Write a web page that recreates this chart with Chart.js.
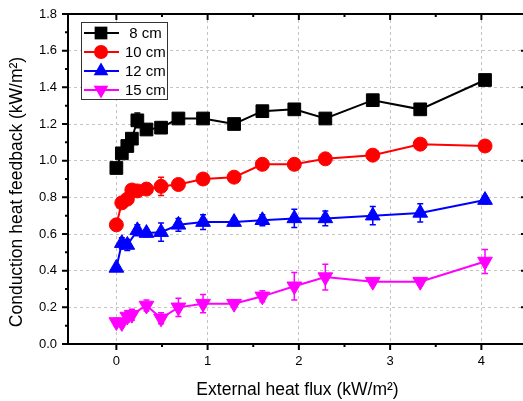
<!DOCTYPE html>
<html>
<head>
<meta charset="utf-8">
<script src="https://cdn.jsdelivr.net/npm/chart.js"></script>
<style>
  html, body { margin: 0; padding: 0; background: #fff; overflow: hidden; }
  #wrap { width: 523px; height: 401px; overflow: hidden; }
</style>
</head>
<body>
<div id="wrap"><canvas id="myChart" width="527" height="401"></canvas></div>
<script>
// external heat flux (kW/m2), shared by all series
var heatFlux = [0, 0.06, 0.12, 0.17, 0.23, 0.33, 0.49, 0.68, 0.95, 1.29, 1.6, 1.95, 2.29, 2.81, 3.33, 4.04];

// conduction heat feedback (kW/m2)
var cm8 = [0.96, 1.04, 1.08, 1.12, 1.22, 1.17, 1.18, 1.23, 1.23, 1.2, 1.27, 1.28, 1.23, 1.33, 1.28, 1.44];
var cm10 = [0.65, 0.77, 0.79, 0.84, 0.835, 0.845, 0.86, 0.87, 0.9, 0.91, 0.98, 0.98, 1.01, 1.03, 1.09, 1.08];
var cm12 = [0.415, 0.55, 0.54, null, 0.62, 0.605, 0.61, 0.65, 0.665, 0.665, 0.675, 0.685, 0.685, 0.7, 0.715, 0.785];
var cm15 = [0.12, 0.115, 0.15, 0.16, null, 0.21, 0.14, 0.2, 0.22, 0.22, 0.26, 0.315, 0.365, 0.34, 0.34, 0.45];

// error bar half lengths
var err8 = [0, 0, 0, 0, 0.04, 0.02, 0.03, 0.02, 0.02, 0, 0.02, 0, 0, 0, 0, 0];
var err10 = [0, 0, 0, 0, 0, 0, 0.05, 0, 0, 0, 0, 0, 0, 0, 0.03, 0];
var err12 = [0, 0.03, 0.03, 0, 0.03, 0.02, 0.05, 0.035, 0.04, 0.02, 0.03, 0.05, 0.04, 0.05, 0.05, 0.02];
var err15 = [0.02, 0.02, 0.03, 0.03, 0, 0.03, 0.03, 0.05, 0.05, 0.02, 0.03, 0.075, 0.07, 0.02, 0.02, 0.065];

var seriesLabels = [" 8 cm", "10 cm", "12 cm", "15 cm"];
var xTicks = [0, 1, 2, 3, 4];

var FONT = "'Liberation Sans', Arial, sans-serif";

function toPoints(values) {
  return heatFlux.map(function (x, i) {
    return { x: x, y: values[i] };
  });
}

function makeSet(label, values, errs, color, style, radius, rotation) {
  return {
    label: label,
    data: toPoints(values),
    errors: errs,
    showLine: true,
    spanGaps: true,
    borderColor: color,
    backgroundColor: color,
    borderWidth: 2,
    pointStyle: style,
    pointRadius: radius,
    pointRotation: rotation || 0,
    pointBorderWidth: 1,
    pointBorderColor: color,
    pointBackgroundColor: color,
    tension: 0,
  };
}

// marker for the legend box
function drawMarker(c, style, x, y, r, rot, color) {
  c.fillStyle = color;
  c.beginPath();
  if (style === "rect") {
    var s = r / Math.SQRT2;
    c.rect(x - s, y - s, 2 * s, 2 * s);
  } else if (style === "circle") {
    c.arc(x, y, r, 0, Math.PI * 2);
  } else {
    var a = rot ? Math.PI : 0;
    for (var k = 0; k < 3; k++) {
      var ang = a - Math.PI / 2 + (k * 2 * Math.PI) / 3;
      var px = x + r * Math.cos(ang);
      var py = y + r * Math.sin(ang);
      if (k === 0) c.moveTo(px, py);
      else c.lineTo(px, py);
    }
    c.closePath();
  }
  c.fill();
}

var framePlugin = {
  id: "frame",
  afterDatasetsDraw: function (chart) {
    var c = chart.ctx;
    var xs = chart.scales.x;
    var ys = chart.scales.y;
    var a = chart.chartArea;

    // error bars
    chart.data.datasets.forEach(function (ds) {
      c.save();
      c.strokeStyle = ds.borderColor;
      c.lineWidth = 1.5;
      ds.data.forEach(function (p, i) {
        var e = ds.errors[i];
        if (p.y === null || !e) return;
        var px = xs.getPixelForValue(p.x);
        var y1 = ys.getPixelForValue(p.y + e);
        var y2 = ys.getPixelForValue(p.y - e);
        c.beginPath();
        c.moveTo(px, y1); c.lineTo(px, y2);
        c.moveTo(px - 3, y1); c.lineTo(px + 3, y1);
        c.moveTo(px - 3, y2); c.lineTo(px + 3, y2);
        c.stroke();
      });
      c.restore();
    });

    // axes box and ticks
    c.save();
    c.strokeStyle = "#000";
    c.lineWidth = 2;
    c.strokeRect(a.left, a.top, a.right - a.left, a.bottom - a.top);
    c.beginPath();
    var v, py, px, len;
    for (var t = 0; t <= 18; t++) {
      v = t / 10;
      py = ys.getPixelForValue(v);
      len = t % 2 === 0 ? 6 : 3;
      c.moveTo(a.left - len, py); c.lineTo(a.left, py);
      c.moveTo(a.right, py); c.lineTo(a.right - len, py);
    }
    for (var u = 0; u <= 9; u++) {
      v = u / 2;
      px = xs.getPixelForValue(v);
      len = u % 2 === 0 ? 6 : 3;
      c.moveTo(px, a.bottom); c.lineTo(px, a.bottom + len);
      c.moveTo(px, a.top); c.lineTo(px, a.top + len);
    }
    c.stroke();

    // y axis title
    c.fillStyle = "#000";
    c.font = "17.5px " + FONT;
    c.textAlign = "center";
    c.textBaseline = "middle";
    c.translate(17, 192);
    c.rotate(-Math.PI / 2);
    c.fillText("Conduction heat feedback (kW/m\u00b2)", 0, 0);
    c.restore();

    // legend
    c.save();
    c.fillStyle = "#fff";
    c.fillRect(81, 22, 86, 77);
    c.strokeStyle = "#333";
    c.lineWidth = 1;
    c.strokeRect(81.5, 22.5, 86, 77);
    chart.data.datasets.forEach(function (ds, i) {
      var ry = 33 + i * 19;
      c.strokeStyle = ds.borderColor;
      c.lineWidth = 2;
      c.beginPath();
      c.moveTo(84, ry); c.lineTo(119, ry);
      c.stroke();
      drawMarker(c, ds.pointStyle, 101, ry, ds.pointRadius, ds.pointRotation, ds.borderColor);
      c.fillStyle = "#000";
      c.font = "15px " + FONT;
      c.textAlign = "left";
      c.textBaseline = "middle";
      c.fillText(ds.label, 125, ry + 1);
    });
    c.restore();
  },
};

var ctx = document.getElementById("myChart");
var chart = new Chart(ctx, {
  type: "scatter",
  data: {
    datasets: [
      makeSet(seriesLabels[0], cm8, err8, "#000000", "rect", 9),
      makeSet(seriesLabels[1], cm10, err10, "#ff0000", "circle", 7),
      makeSet(seriesLabels[2], cm12, err12, "#0000ff", "triangle", 8.5),
      makeSet(seriesLabels[3], cm15, err15, "#ff00ff", "triangle", 8.5, 180),
    ],
  },
  options: {
    responsive: false,
    animation: false,
    layout: { autoPadding: false, padding: { left: 0, top: 14, right: 0, bottom: 0 } },
    plugins: {
      legend: { display: false },
      tooltip: { enabled: false },
    },
    scales: {
      x: {
        type: "linear",
        min: -0.53,
        max: 4.5,
        afterBuildTicks: function (scale) {
          scale.ticks = xTicks.map(function (v) { return { value: v }; });
        },
        afterFit: function (scale) {
          scale.height = 57;
          scale.paddingLeft = 0;
          scale.paddingRight = 0;
        },
        grid: { color: "#c4c4c4", lineWidth: 1, drawTicks: false },
        border: { display: false, dash: [3, 3] },
        ticks: {
          padding: 10,
          color: "#000",
          font: { family: FONT, size: 13 },
          callback: function (v) { return String(v); },
        },
        title: {
          display: true,
          text: "External heat flux (kW/m\u00b2)",
          color: "#000",
          font: { family: FONT, size: 17.5 },
          padding: { top: 0, bottom: 0 },
        },
      },
      y: {
        min: 0,
        max: 1.8,
        afterFit: function (scale) {
          scale.width = 68;
          scale.paddingTop = 0;
          scale.paddingBottom = 0;
        },
        grid: { color: "#c4c4c4", lineWidth: 1, drawTicks: false },
        border: { display: false, dash: [3, 3] },
        ticks: {
          stepSize: 0.2,
          padding: 11,
          color: "#000",
          font: { family: FONT, size: 13 },
          callback: function (v) { return v.toFixed(1); },
        },
      },
    },
  },
  plugins: [framePlugin],
});
</script>
</body>
</html>
